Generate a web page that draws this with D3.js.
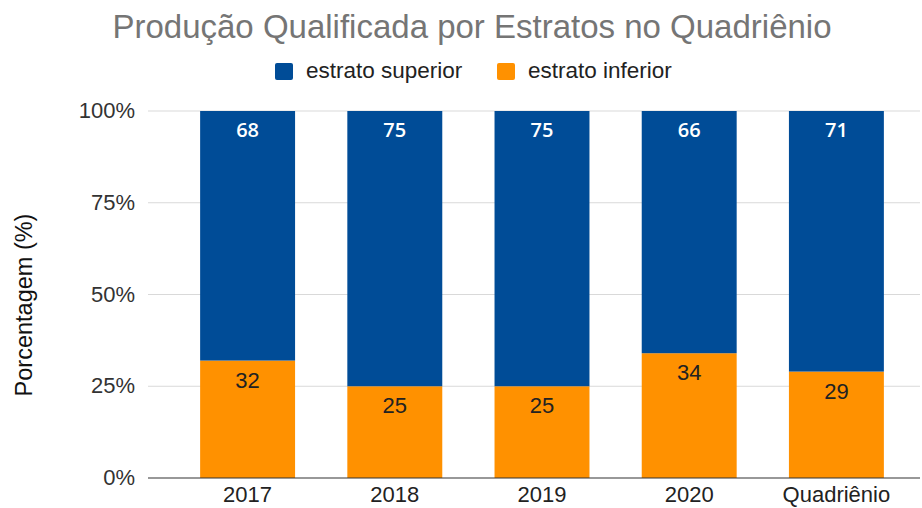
<!DOCTYPE html>
<html>
<head>
<meta charset="utf-8">
<script src="https://cdn.jsdelivr.net/npm/d3@7"></script>
<style>
  body { margin: 0; background: #fff; }
  svg { display: block; font-family: "Liberation Sans", Arial, sans-serif; }
</style>
</head>
<body>
<div id="chart"></div>
<script>
const categories = ["2017", "2018", "2019", "2020", "Quadriênio"];
const superior = [68, 75, 75, 66, 71];
const inferior = [32, 25, 25, 34, 29];
const yTicks = [0, 25, 50, 75, 100];
const seriesNames = ["estrato superior", "estrato inferior"];

const width = 922, height = 508;
const colors = { superior: "#004C97", inferior: "#FF9100" };

const svg = d3.select("#chart").append("svg")
  .attr("width", width)
  .attr("height", height);

const xScale = d3.scaleBand()
  .domain(categories)
  .range([174, 910])
  .paddingInner(0.355)
  .paddingOuter(0.1775);

const yScale = d3.scaleLinear()
  .domain([0, 100])
  .range([478, 111]);

// Gridlines
svg.append("g")
  .selectAll("line")
  .data(yTicks.filter(d => d > 0))
  .enter()
  .append("line")
  .attr("x1", 148)
  .attr("x2", 920)
  .attr("y1", d => yScale(d))
  .attr("y2", d => yScale(d))
  .attr("stroke", "#d9d9d9")
  .attr("stroke-width", 1);

// Y tick labels
svg.append("g")
  .selectAll("text")
  .data(yTicks)
  .enter()
  .append("text")
  .attr("x", 135)
  .attr("y", d => yScale(d) + 7)
  .attr("text-anchor", "end")
  .attr("font-size", "22px")
  .attr("fill", "#333")
  .text(d => d + "%");

const rows = categories.map((c, i) => ({ cat: c, sup: superior[i], inf: inferior[i] }));

// Inferior (bottom) bars
svg.append("g")
  .selectAll("rect")
  .data(rows)
  .enter()
  .append("rect")
  .attr("x", d => xScale(d.cat))
  .attr("width", xScale.bandwidth())
  .attr("y", d => yScale(d.inf))
  .attr("height", d => yScale(0) - yScale(d.inf))
  .attr("fill", colors.inferior);

// Superior (top) bars
svg.append("g")
  .selectAll("rect")
  .data(rows)
  .enter()
  .append("rect")
  .attr("x", d => xScale(d.cat))
  .attr("width", xScale.bandwidth())
  .attr("y", d => yScale(d.inf + d.sup))
  .attr("height", d => yScale(d.inf) - yScale(d.inf + d.sup))
  .attr("fill", colors.superior);

// Value labels
svg.append("g")
  .selectAll("text")
  .data(rows)
  .enter()
  .append("text")
  .attr("x", d => xScale(d.cat) + xScale.bandwidth() / 2)
  .attr("y", d => yScale(d.inf + d.sup) + 26)
  .attr("text-anchor", "middle")
  .attr("font-family", "'Open Sans', sans-serif")
  .attr("font-weight", "600")
  .attr("font-size", "20px")
  .attr("fill", "#fff")
  .text(d => d.sup);

svg.append("g")
  .selectAll("text")
  .data(rows)
  .enter()
  .append("text")
  .attr("x", d => xScale(d.cat) + xScale.bandwidth() / 2)
  .attr("y", d => yScale(d.inf) + 27)
  .attr("text-anchor", "middle")
  .attr("font-size", "22px")
  .attr("fill", "#222")
  .text(d => d.inf);

// Baseline
svg.append("line")
  .attr("x1", 148)
  .attr("x2", 920)
  .attr("y1", yScale(0))
  .attr("y2", yScale(0))
  .attr("stroke", "#333")
  .attr("stroke-width", 1.2);

// X labels
svg.append("g")
  .selectAll("text")
  .data(categories)
  .enter()
  .append("text")
  .attr("x", d => xScale(d) + xScale.bandwidth() / 2)
  .attr("y", 502)
  .attr("text-anchor", "middle")
  .attr("font-size", "22px")
  .attr("fill", "#222")
  .text(d => d);

// Y-axis title
svg.append("text")
  .attr("transform", "translate(32,305) rotate(-90)")
  .attr("text-anchor", "middle")
  .attr("font-size", "23.5px")
  .attr("fill", "#111")
  .text("Porcentagem (%)");

// Title
svg.append("text")
  .attr("x", 472)
  .attr("y", 38)
  .attr("text-anchor", "middle")
  .attr("font-size", "33px")
  .attr("fill", "#757575")
  .text("Produção Qualificada por Estratos no Quadriênio");

// Legend
const legend = [
  { name: seriesNames[0], color: colors.superior, x: 275 },
  { name: seriesNames[1], color: colors.inferior, x: 497 }
];
const lg = svg.append("g")
  .selectAll("g")
  .data(legend)
  .enter()
  .append("g")
  .attr("transform", d => `translate(${d.x},63)`);
lg.append("rect")
  .attr("width", 18)
  .attr("height", 17)
  .attr("rx", 2)
  .attr("fill", d => d.color);
lg.append("text")
  .attr("x", 31)
  .attr("y", 15)
  .attr("font-size", "22.5px")
  .attr("fill", "#222")
  .text(d => d.name);
</script>
</body>
</html>
